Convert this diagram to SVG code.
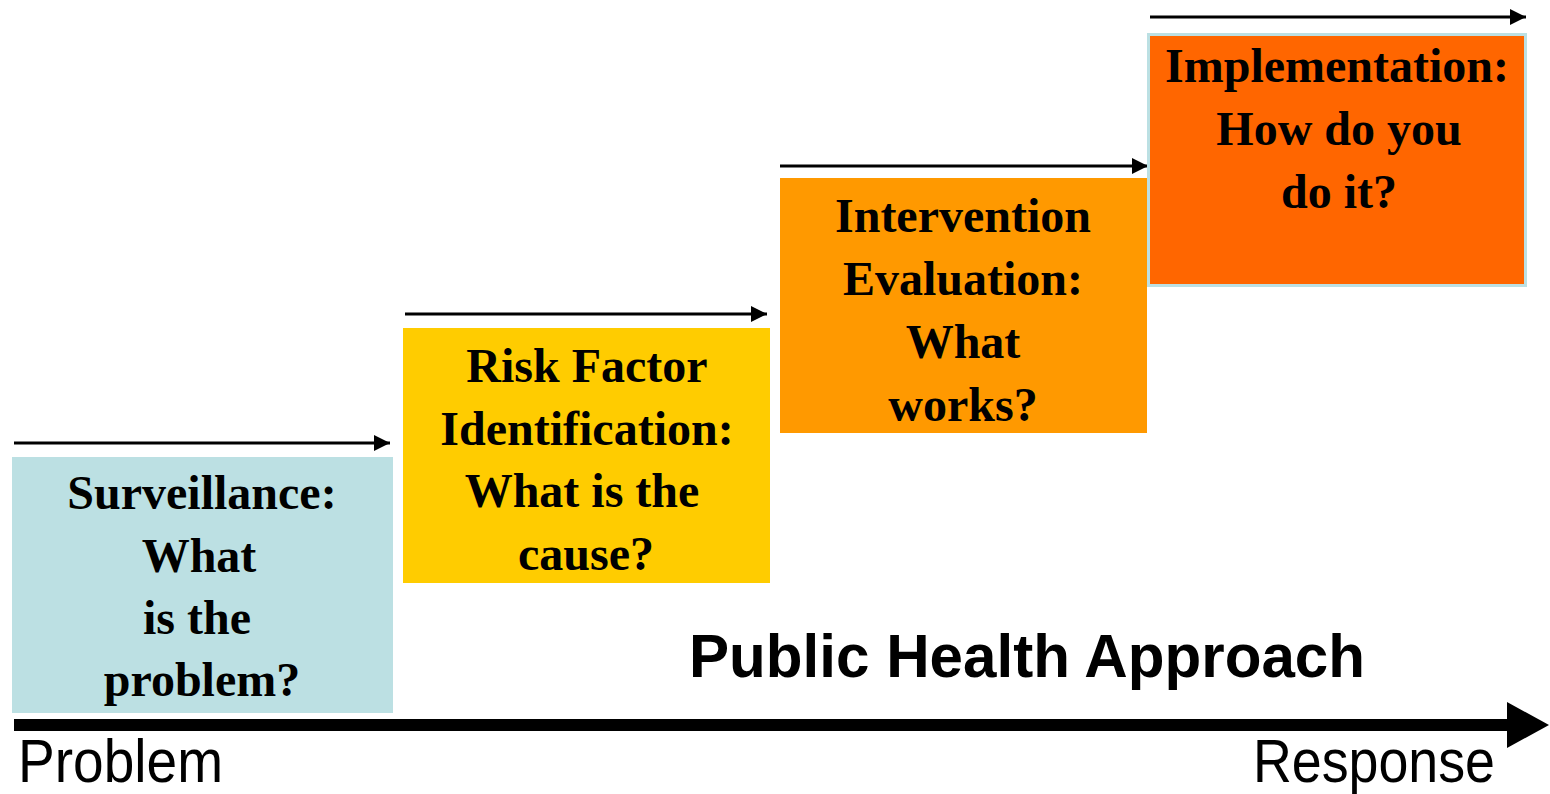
<svg xmlns="http://www.w3.org/2000/svg" width="1550" height="794" viewBox="0 0 1550 794">
<defs>
<marker id="ah" viewBox="0 0 10 10" refX="10" refY="5" markerWidth="5.5" markerHeight="5.5" markerUnits="strokeWidth" orient="auto">
<path d="M0,0 L10,5 L0,10 Z" fill="#000"/>
</marker>
</defs>
<style>
.lbl{font-family:"Liberation Serif","Times New Roman",serif;font-weight:bold;font-size:48px;fill:#000;text-anchor:middle}
.step{stroke:#000;stroke-width:3;fill:none}
.axis{font-family:"Liberation Sans",Arial,sans-serif;font-size:62px;fill:#000}
</style>
<rect width="1550" height="794" fill="#fff"/>
<g id="connectors">
<line class="step" x1="14" y1="443" x2="390" y2="443" marker-end="url(#ah)"/>
<line class="step" x1="405" y1="314" x2="767" y2="314" marker-end="url(#ah)"/>
<line class="step" x1="780" y1="166" x2="1148" y2="166" marker-end="url(#ah)"/>
<line class="step" x1="1150" y1="17" x2="1526" y2="17" marker-end="url(#ah)"/>
<rect x="14" y="719" width="1495" height="12" fill="#000"/>
<polygon points="1507,702 1549,725 1507,748" fill="#000"/>
</g>
<g id="surveillance">
<rect x="12" y="457" width="381" height="256" fill="#BCE0E3"/>
<text class="lbl" x="202" y="509">Surveillance:</text>
<text class="lbl" x="199" y="572">What</text>
<text class="lbl" x="197" y="634">is the</text>
<text class="lbl" x="202" y="696">problem?</text>
</g>
<g id="risk-factor">
<rect x="403" y="328" width="367" height="255" fill="#FFCC00"/>
<text class="lbl" x="587" y="382">Risk Factor</text>
<text class="lbl" x="587" y="445">Identification:</text>
<text class="lbl" x="582" y="507">What is the</text>
<text class="lbl" x="586" y="570">cause?</text>
</g>
<g id="intervention">
<rect x="780" y="178" width="367" height="255" fill="#FF9900"/>
<text class="lbl" x="963" y="232">Intervention</text>
<text class="lbl" x="963" y="295">Evaluation:</text>
<text class="lbl" x="963" y="358">What</text>
<text class="lbl" x="963" y="421">works?</text>
</g>
<g id="implementation">
<rect x="1148.5" y="34.5" width="377" height="251" fill="#FF6600" stroke="#BCE0E3" stroke-width="3"/>
<text class="lbl" x="1337" y="82">Implementation:</text>
<text class="lbl" x="1339" y="145">How do you</text>
<text class="lbl" x="1339" y="208">do it?</text>
</g>
<g id="labels">
<text x="689" y="677" font-family="'Liberation Sans',Arial,sans-serif" font-weight="bold" font-size="62" textLength="676" lengthAdjust="spacingAndGlyphs">Public Health Approach</text>
<text class="axis" x="18" y="782" textLength="205" lengthAdjust="spacingAndGlyphs">Problem</text>
<text class="axis" x="1253" y="782" textLength="242" lengthAdjust="spacingAndGlyphs">Response</text>
</g>
</svg>
